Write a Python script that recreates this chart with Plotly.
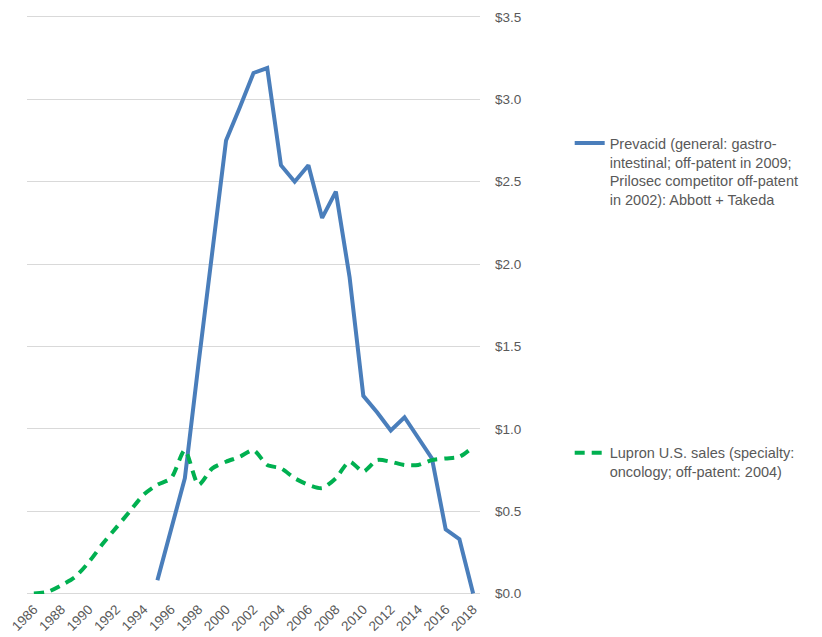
import plotly.graph_objects as go

# Annual U.S. sales, billions of dollars
years = list(range(1986, 2019))

prevacid_years = list(range(1995, 2019))
prevacid_sales = [0.08, 0.39, 0.70, 1.40, 2.08, 2.75, 2.95, 3.16, 3.19, 2.60,
                  2.50, 2.60, 2.28, 2.44, 1.92, 1.20, 1.10, 0.99, 1.07, 0.94,
                  0.82, 0.39, 0.33, 0.00]

lupron_sales = [0.00, 0.01, 0.05, 0.10, 0.19, 0.30, 0.40, 0.50, 0.60, 0.66,
                0.70, 0.87, 0.66, 0.76, 0.80, 0.83, 0.87, 0.78, 0.76, 0.70,
                0.66, 0.64, 0.70, 0.80, 0.74, 0.81, 0.80, 0.78, 0.78, 0.81,
                0.82, 0.83, 0.89]

x_ticks = list(range(1986, 2019, 2))
x_tick_labels = [str(y) for y in x_ticks]
y_ticks = [0.0, 0.5, 1.0, 1.5, 2.0, 2.5, 3.0, 3.5]
y_tick_labels = ["$0.0", "$0.5", "$1.0", "$1.5", "$2.0", "$2.5", "$3.0", "$3.5"]

prevacid_name = ("Prevacid (general: gastro-<br>intestinal; off-patent in 2009;<br>"
                 "Prilosec competitor off-patent<br>in 2002): Abbott + Takeda")
lupron_name = "Lupron U.S. sales (specialty:<br>oncology; off-patent: 2004)"

text_color = "#595959"
grid_color = "#d9d9d9"
font_family = "Liberation Sans, Arial, sans-serif"

fig = go.Figure()

fig.add_trace(go.Scatter(
    x=prevacid_years, y=prevacid_sales, mode="lines", name=prevacid_name,
    line=dict(color="#4a7ebb", width=4),
    legend="legend",
))

fig.add_trace(go.Scatter(
    x=years, y=lupron_sales, mode="lines", name=lupron_name,
    line=dict(color="#00b050", width=4, dash="10px,7px", shape="spline", smoothing=0.7),
    legend="legend2",
))

legend_style = dict(
    font=dict(family=font_family, size=14.5, color=text_color),
    bgcolor="rgba(0,0,0,0)",
    xanchor="left", yanchor="top",
    valign="top",
    itemwidth=30,
    tracegroupgap=0,
)

fig.update_layout(
    width=822, height=637,
    margin=dict(l=27, r=342, t=14, b=43, autoexpand=False),
    paper_bgcolor="white", plot_bgcolor="white",
    font=dict(family=font_family, color=text_color, size=13),
    showlegend=True,
    legend=dict(x=1.198, y=0.805, **legend_style),
    legend2=dict(x=1.198, y=0.271, **legend_style),
    xaxis=dict(
        range=[1985.5, 2018.5],
        tickmode="array", tickvals=x_ticks, ticktext=x_tick_labels,
        tickangle=-45,
        showgrid=False, zeroline=False, showline=False,
        automargin=False,
        ticklabelstandoff=4,
        tickfont=dict(size=13.5, color=text_color),
    ),
    yaxis=dict(
        side="right",
        range=[-0.003, 3.518],
        tickmode="array", tickvals=y_ticks, ticktext=y_tick_labels,
        showgrid=True, gridcolor=grid_color, gridwidth=1,
        zeroline=True, zerolinecolor=grid_color, zerolinewidth=1,
        showline=False,
        automargin=False,
        ticklabelstandoff=14,
        tickfont=dict(size=13.5, color=text_color),
    ),
)

fig.write_html("out.html")
